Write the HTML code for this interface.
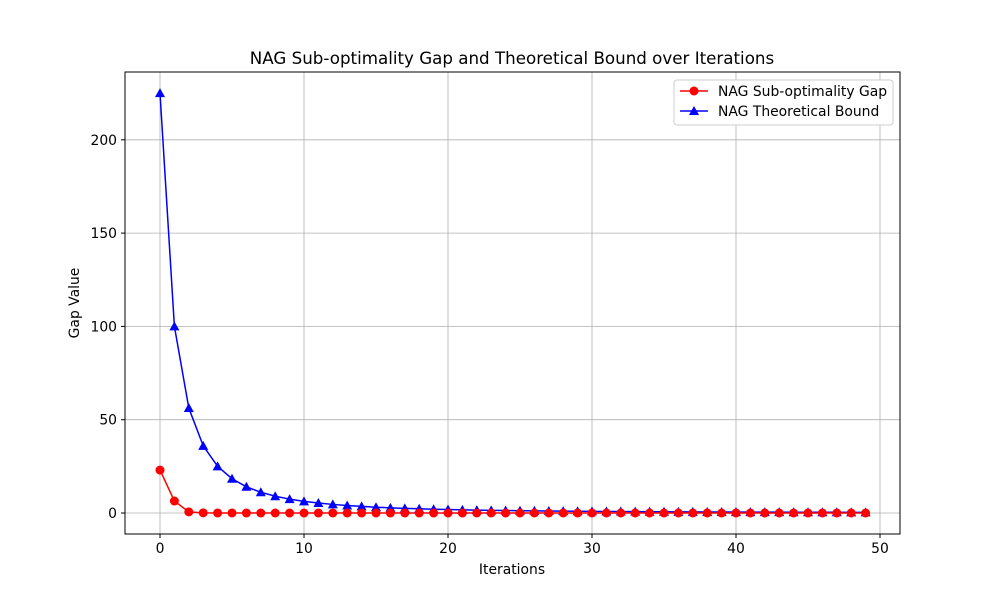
<!DOCTYPE html>
<html><head><meta charset="utf-8"><style>
body{margin:0;background:#fff}
svg text{font-family:"DejaVu Sans","Liberation Sans",sans-serif;fill:#000}
</style></head><body>
<svg id="chart" width="1000" height="600">
<rect width="1000" height="600" fill="#fff"/>
<g id="grid"></g>
<g id="series"></g>
<rect x="125" y="72" width="775" height="462" fill="none" stroke="#000" stroke-width="1"/>
<g id="axes"></g>
<text x="512" y="64" font-size="16.7" text-anchor="middle">NAG Sub-optimality Gap and Theoretical Bound over Iterations</text>
<text x="512" y="574" font-size="13.9" text-anchor="middle">Iterations</text>
<text x="79" y="303" font-size="13.9" text-anchor="middle" transform="rotate(-90 79 303)">Gap Value</text>
<g>
<rect x="674" y="80" width="219" height="45" rx="3" fill="#fff" stroke="#ccc"/>
<g>
<line x1="680" y1="91" x2="708" y2="91" stroke="red" stroke-width="1.5"/><circle cx="694" cy="91" r="4.5" fill="red"/>
<text x="718" y="96" font-size="13.9">NAG Sub-optimality Gap</text></g>
<g>
<line x1="680" y1="111" x2="708" y2="111" stroke="blue" stroke-width="1.5"/><polygon points="694,106 699,115 689,115" fill="blue"/>
<text x="718" y="116" font-size="13.9">NAG Theoretical Bound</text></g>
</g>
</svg>
<script>
const iterations=[];for(let i=0;i<50;i++)iterations.push(i);
const gapValues=[23,6.4,0.6,0.1,0.02,0.01,0,0,0,0,0,0,0,0,0,0,0,0,0,0,0,0,0,0,0,0,0,0,0,0,0,0,0,0,0,0,0,0,0,0,0,0,0,0,0,0,0,0,0,0];
const boundValues=[225,100,56.25,36,25,18.37,14.06,11.11,9,7.44,6.25,5.33,4.59,4,3.52,3.11,2.77,2.49,2.25,2.04,1.86,1.70,1.56,1.44,1.33,1.23,1.14,1.07,1,0.94,0.88,0.83,0.78,0.73,0.69,0.66,0.62,0.59,0.56,0.54,0.51,0.49,0.47,0.45,0.43,0.41,0.39,0.38,0.36,0.35];
const xTicks=[0,10,20,30,40,50];
const yTicks=[0,50,100,150,200];
const X=v=>160+v*14.4, Y=v=>513-v*1.866;
const NS="http://www.w3.org/2000/svg";
function mk(p,t,a){const e=document.createElementNS(NS,t);for(const k in a)e.setAttribute(k,a[k]);p.appendChild(e);return e;}
const grid=document.getElementById('grid'),axes=document.getElementById('axes'),ser=document.getElementById('series');
xTicks.forEach(t=>{const x=X(t);
 const g=mk(grid,'line',{x1:x,x2:x,y1:72,y2:534,stroke:'#b0b0b0','stroke-width':0.8});
 
 
 mk(axes,'line',{x1:x,x2:x,y1:534,y2:538,stroke:'#000'});
 const l=mk(axes,'text',{x:x,y:553,'font-size':13.9,'text-anchor':'middle'});l.textContent=t;
 
 });
yTicks.forEach(t=>{const y=Y(t);
 const g=mk(grid,'line',{x1:125,x2:900,y1:y,y2:y,stroke:'#b0b0b0','stroke-width':0.8});
 
 
 mk(axes,'line',{x1:121,x2:125,y1:y,y2:y,stroke:'#000'});
 const l=mk(axes,'text',{x:117,y:y+5,'font-size':13.9,'text-anchor':'end'});l.textContent=t;
 
 });
function line(vals,col,name){
 const p=mk(ser,'polyline',{points:vals.map((v,i)=>X(iterations[i])+','+Y(v)).join(' '),fill:'none',stroke:col,'stroke-width':1.5});
 
 }
line(boundValues,'blue','bound');line(gapValues,'red','gap');
boundValues.forEach((v,i)=>{const x=X(iterations[i]),y=Y(v);
 const m=mk(ser,'polygon',{points:`${x},${y-5} ${x+5},${y+4} ${x-5},${y+4}`,fill:'blue'});
 
 });
gapValues.forEach((v,i)=>{
 const m=mk(ser,'circle',{cx:X(iterations[i]),cy:Y(v),r:4.5,fill:'red'});
 
 });
</script>
</body></html>
